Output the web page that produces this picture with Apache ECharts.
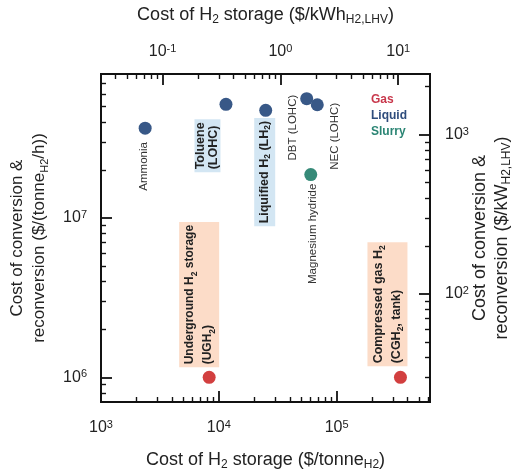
<!DOCTYPE html>
<html><head><meta charset="utf-8">
<script src="https://cdn.jsdelivr.net/npm/echarts@6/dist/echarts.min.js"></script>
<style>html,body{margin:0;padding:0;background:#fff}#c{width:519px;height:473px}</style>
</head><body><div id="c"></div>
<script>
// ---- data ----
const names = ['Ammonia','Toluene (LOHC)','Liquified H2 (LH2)','DBT (LOHC)','NEC (LOHC)','Magnesium hydride','Underground H2 storage (UGH2)','Compressed gas H2 (CGH2, tank)'];
const storageCost = [2370, 11500, 25000, 55700, 68500, 60300, 8280, 348000];        // $/tonne_H2
const conversionCost = [3.66e7, 5.16e7, 4.73e7, 5.6e7, 5.13e7, 1.87e7, 1.0e6, 1.0e6]; // $/(tonne_H2/h)
const phase = ['Liquid','Liquid','Liquid','Liquid','Liquid','Slurry','Gas','Gas'];
const phases = ['Gas','Liquid','Slurry'];
const bottomTicks = [1e3, 1e4, 1e5];
const topTicks = [0.1, 1, 10];
const leftTicks = [1e6, 1e7];
const rightTicks = [1e2, 1e3];
const KWH_PER_TONNE = 33330;
const xRange = [1e3, 6.2e5];
const yRange = [7e5, 8e7];

// ---- styles ----
const FONT = 'Liberation Sans, Arial, sans-serif';
const phaseColor = {Gas:'#d23f3f', Liquid:'#385887', Slurry:'#368a78'};
const legendColor = {Gas:'#c8374b', Liquid:'#2e4c7c', Slurry:'#2b8574'};
const INK = '#111';

function minorsFor(min, max){
  const out = [];
  for (let e = Math.floor(Math.log10(min)); e <= Math.ceil(Math.log10(max)); e++) {
    for (let k = 2; k <= 9; k++) { const v = k * Math.pow(10, e); if (v > min*1.0001 && v < max*0.9999) out.push(v); }
  }
  return out;
}
function powFmt(v){ const e = Math.round(Math.log10(v)); return '{b|10}{s|' + e + '}'; }
const labelRich = {
  b:{fontSize:16, color:'#222', fontFamily:FONT, lineHeight:17},
  s:{fontSize:11, color:'#222', fontFamily:FONT, verticalAlign:'top', lineHeight:11}
};
function axis(position, min, max, ticks, major, margin, extra){
  const a = {
    type:'log', logBase:10, position, min, max, gridIndex:0,
    axisLine:{show:true, lineStyle:{color:INK, width:1.8}},
    axisTick:{show:true, inside:true, length: major ? 11 : 5, customValues: ticks,
              lineStyle:{color:INK, width: major ? 1.8 : 1.4}},
    axisLabel: major ? {show:true, customValues: ticks, formatter: powFmt, rich: labelRich, margin:margin} : {show:false},
    splitLine:{show:false}, minorTick:{show:false}, minorSplitLine:{show:false},
    axisPointer:{show:false}, nameMoveOverlap:false
  };
  return Object.assign(a, extra || {});
}
const titleRich = (fs, lh) => ({
  t:{fontSize:fs, color:'#222', fontFamily:FONT, lineHeight:lh},
  s:{fontSize:Math.round(fs*0.65), color:'#222', fontFamily:FONT, verticalAlign:'bottom', lineHeight:Math.round(fs*0.65)}
});

const topRange = [xRange[0]/KWH_PER_TONNE, xRange[1]/KWH_PER_TONNE];
const rightRange = [yRange[0]/KWH_PER_TONNE, yRange[1]/KWH_PER_TONNE];

const xAxes = [
  axis('bottom', xRange[0], xRange[1], bottomTicks, true, 17, {
    name:'{t|Cost of H}{s|2}{t| storage ($/tonne}{s|H2}{t|)}', nameLocation:'middle', nameGap:47,
    nameTextStyle:{rich:titleRich(18, 22)} }),
  axis('bottom', xRange[0], xRange[1], minorsFor(xRange[0], xRange[1]), false),
  axis('top', topRange[0], topRange[1], topTicks, true, 14, {
    name:'{t|Cost of H}{s|2}{t| storage ($/kWh}{s|H2,LHV}{t|)}', nameLocation:'middle', nameGap:48,
    nameTextStyle:{rich:titleRich(18, 22)} }),
  axis('top', topRange[0], topRange[1], minorsFor(topRange[0], topRange[1]), false)
];
const yAxes = [
  axis('left', yRange[0], yRange[1], leftTicks, true, 14, {
    name:'{t|Cost of conversion &}\n{t|reconversion ($/(tonne}{s|H2}{t|/h))}', nameLocation:'middle', nameGap:51,
    nameTextStyle:{rich:titleRich(17, 22)} }),
  axis('left', yRange[0], yRange[1], minorsFor(yRange[0], yRange[1]), false),
  axis('right', rightRange[0], rightRange[1], rightTicks, true, 15, {
    name:'{t|Cost of conversion &}\n{t|reconversion ($/kW}{s|H2,LHV}{t|)}', nameLocation:'middle', nameGap:39,
    nameTextStyle:{rich:titleRich(18, 22)} }),
  axis('right', rightRange[0], rightRange[1], minorsFor(rightRange[0], rightRange[1]), false)
];

const series = phases.map(p => ({
  name:p, type:'scatter', xAxisIndex:0, yAxisIndex:0, symbolSize:13,
  itemStyle:{color:phaseColor[p], opacity:1},
  emphasis:{disabled:true},
  data: storageCost.map((x,i)=>[x, conversionCost[i], names[i], phase[i]]).filter(d=>d[3]===p)
}));

const chart = echarts.init(document.getElementById('c'), null, {renderer:'canvas'});
chart.setOption({
  animation:false,
  backgroundColor:'#fff',
  grid:{left:101, right:89, top:74, bottom:71, containLabel:false, outerBoundsMode:'none'},
  legend:{
    orient:'vertical', left:361, top:89, itemWidth:0, itemHeight:0, itemGap:4, icon:'rect', selectedMode:false,
    data: phases.map(p=>({name:p, textStyle:{color:legendColor[p]}})),
    textStyle:{fontFamily:FONT, fontSize:12, fontWeight:'bold', padding:[0,0,0,0]}
  },
  xAxis:xAxes, yAxis:yAxes, series
});

// ---- point labels (rotated text), placed relative to each point via the chart's scales ----
const labelText = [
  'Ammonia',
  '{b|Toluene}\n{b|(LOHC)}',
  '{b|Liquified H}{sub|2}{b| (LH}{sub|2}{b|)}',
  'DBT (LOHC)',
  'NEC (LOHC)',
  'Magnesium hydride',
  '{b|Underground H}{sub|2}{b| storage}\n{b|(UGH}{sub|2}{b|)}',
  '{b|Compressed gas H}{sub|2}\n{b|(CGH}{sub|2}{b|, tank)}'
];
// dx: screen x offset of text centre; dy: screen y offset of text end (anchor 'end' = top) or start (anchor 'start' = bottom)
const labelLayout = [
  {dx:-1, dy:14, anchor:'end'},
  {dx:-18.5, dy:68, anchor:'start', box:'#d3e6f3', lh:13, fs:12.5, pad:[0,3,0,3]},
  {dx:-1, dy:116, anchor:'start', box:'#d3e6f3', lh:15, fs:12.5, pad:[3,3,3,3]},
  {dx:-14, dy:-4, anchor:'end'},
  {dx:18, dy:-2, anchor:'end'},
  {dx:2, dy:9, anchor:'end'},
  {dx:-10, dy:-10, anchor:'start', box:'#fcdcc8', lh:18, fs:12, pad:[2,3,2,3]},
  {dx:-13, dy:-11, anchor:'start', box:'#fcdcc8', lh:18, fs:12.5, pad:[2,3,2,3]}
];
const graphics = names.map((n,i)=>{
  const pt = chart.convertToPixel({xAxisIndex:0, yAxisIndex:0}, [storageCost[i], conversionCost[i]]);
  const L = labelLayout[i];
  const style = {
    text: labelText[i],
    align: L.anchor === 'start' ? 'left' : 'right',
    verticalAlign:'middle',
    fontFamily: FONT,
    fontSize: 11.5,
    fill:'#333'
  };
  if (L.box) {
    Object.assign(style, {
      backgroundColor:L.box, padding:L.pad, fill:'#222',
      rich:{
        b:{fontSize:L.fs, fontWeight:'bold', fontFamily:FONT, fill:'#222', lineHeight:L.lh},
        sub:{fontSize:8.5, verticalAlign:'bottom', lineHeight:8, fontFamily:FONT, fontWeight:'bold', fill:'#222'}
      }
    });
  }
  return {type:'text', x: pt[0] + L.dx, y: pt[1] + L.dy, rotation: Math.PI/2, silent:true, z:1, style};
});
chart.setOption({graphic: graphics});
</script>
</body></html>
